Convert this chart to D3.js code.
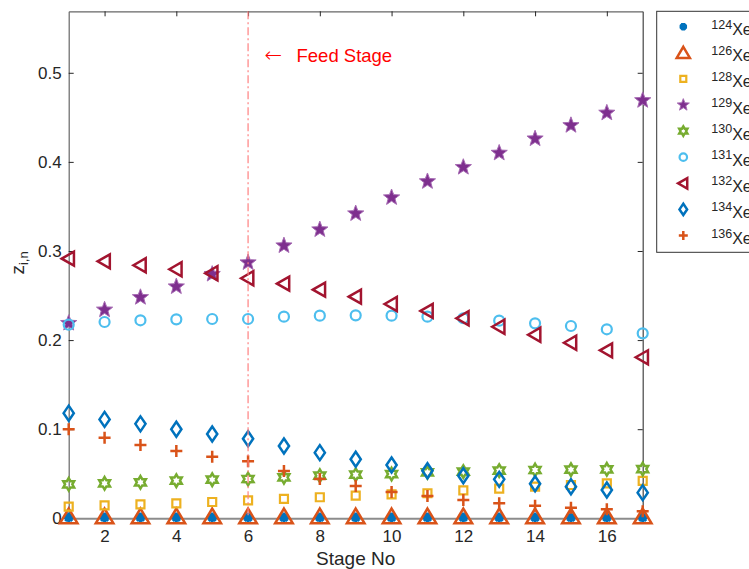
<!DOCTYPE html>
<html>
<head>
<meta charset="utf-8">
<script src="https://cdn.jsdelivr.net/npm/d3@7"></script>
<style>
  body { margin: 0; background: #fff; }
  svg { font-family: "Liberation Sans", Arial, sans-serif; }
</style>
</head>
<body>
<div class="chart"></div>
<script>
// stage numbers (x)
var stages = [1, 2, 3, 4, 5, 6, 7, 8, 9, 10, 11, 12, 13, 14, 15, 16, 17];

// mole fractions per isotope
var xe124 = [0.001, 0.001, 0.001, 0.001, 0.001, 0.001, 0.001, 0.001, 0.001, 0.001, 0.001, 0.001, 0.001, 0.001, 0.001, 0.001, 0.001];
var xe126 = [0.002, 0.002, 0.002, 0.002, 0.002, 0.002, 0.002, 0.002, 0.002, 0.002, 0.002, 0.002, 0.002, 0.002, 0.002, 0.002, 0.002];
var xe128 = [0.013, 0.0146, 0.0157, 0.0168, 0.0183, 0.0202, 0.0217, 0.0236, 0.0254, 0.0269, 0.0281, 0.0314, 0.0333, 0.0355, 0.0374, 0.0393, 0.0419];
var xe129 = [0.219, 0.234, 0.248, 0.260, 0.274, 0.287, 0.306, 0.324, 0.342, 0.360, 0.378, 0.394, 0.410, 0.426, 0.441, 0.455, 0.469];
var xe130 = [0.0381, 0.0393, 0.0404, 0.0422, 0.0433, 0.0441, 0.046, 0.0478, 0.0489, 0.0497, 0.0516, 0.0524, 0.0535, 0.0542, 0.0546, 0.055, 0.0553];
var xe131 = [0.2173, 0.2203, 0.2222, 0.2233, 0.2237, 0.2237, 0.2263, 0.2274, 0.2278, 0.2274, 0.2263, 0.2245, 0.2218, 0.2188, 0.2158, 0.2121, 0.2076];
var xe132 = [0.2914, 0.2884, 0.284, 0.2795, 0.275, 0.2694, 0.2633, 0.2566, 0.2487, 0.2405, 0.2327, 0.2245, 0.215, 0.206, 0.197, 0.1885, 0.1807];
var xe134 = [0.118, 0.111, 0.106, 0.100, 0.0946, 0.0893, 0.0811, 0.0737, 0.0662, 0.0598, 0.0534, 0.0478, 0.0437, 0.0388, 0.0355, 0.0318, 0.0288];
var xe136 = [0.0999, 0.0905, 0.0823, 0.0755, 0.0692, 0.064, 0.0531, 0.0441, 0.0363, 0.0295, 0.025, 0.0205, 0.0168, 0.0142, 0.0119, 0.0101, 0.0079];

var massNumbers = ["124", "126", "128", "129", "130", "131", "132", "134", "136"];
var xTicks = [2, 4, 6, 8, 10, 12, 14, 16];
var yTicks = [0, 0.1, 0.2, 0.3, 0.4, 0.5];
var yTickLabels = ["0", "0.1", "0.2", "0.3", "0.4", "0.5"];
var feedStage = 6;

// marker shapes (size passed as diameter^2)
function poly(pts) {
  return {
    draw: function (ctx, size) {
      var r = Math.sqrt(size) / 2;
      pts.forEach(function (p, i) {
        if (i === 0) ctx.moveTo(p[0] * r, p[1] * r);
        else ctx.lineTo(p[0] * r, p[1] * r);
      });
      ctx.closePath();
    }
  };
}
function starPts(n, inner) {
  var pts = [];
  for (var i = 0; i < n * 2; i++) {
    var a = -Math.PI / 2 + i * Math.PI / n;
    var rr = i % 2 === 0 ? 1 : inner;
    pts.push([Math.cos(a) * rr, Math.sin(a) * rr]);
  }
  return pts;
}
var asterisk = {
  draw: function (ctx, size) {
    var r = Math.sqrt(size) / 2;
    for (var i = 0; i < 4; i++) {
      var a = i * Math.PI / 4;
      ctx.moveTo(-Math.cos(a) * r, -Math.sin(a) * r);
      ctx.lineTo(Math.cos(a) * r, Math.sin(a) * r);
    }
  }
};
var plus = {
  draw: function (ctx, size) {
    var r = Math.sqrt(size) / 2;
    ctx.moveTo(-r, 0); ctx.lineTo(r, 0);
    ctx.moveTo(0, -r); ctx.lineTo(0, r);
  }
};
var circle = {
  draw: function (ctx, size) {
    var r = Math.sqrt(size) / 2;
    ctx.moveTo(r, 0);
    ctx.arc(0, 0, r, 0, 2 * Math.PI);
  }
};

var series = [
  { name: massNumbers[0], values: xe124, color: "#0072BD", shape: asterisk, size: 10, fill: "none", sw: 3 },
  { name: massNumbers[1], values: xe126, color: "#D95319", shape: poly([[0, -1], [1.1, 0.85], [-1.1, 0.85]]), size: 16, fill: "none", sw: 2.5 },
  { name: massNumbers[2], values: xe128, color: "#EDB120", shape: poly([[-1, -1], [1, -1], [1, 1], [-1, 1]]), size: 8, fill: "none", sw: 2.2 },
  { name: massNumbers[3], values: xe129, color: "#7E2F8E", shape: poly(starPts(5, 0.42)), size: 17, fill: "#7E2F8E", sw: 1 },
  { name: massNumbers[4], values: xe130, color: "#77AC30", shape: poly(starPts(6, 0.58)), size: 12.5, fill: "none", sw: 2.5 },
  { name: massNumbers[5], values: xe131, color: "#4DBEEE", shape: circle, size: 10, fill: "none", sw: 2.2 },
  { name: massNumbers[6], values: xe132, color: "#A2142F", shape: poly([[-1, 0], [0.75, -1], [0.75, 1]]), size: 14, fill: "none", sw: 2.5 },
  { name: massNumbers[7], values: xe134, color: "#0072BD", shape: poly([[0, -1], [0.68, 0], [0, 1], [-0.68, 0]]), size: 15, fill: "none", sw: 2.5 },
  { name: massNumbers[8], values: xe136, color: "#D95319", shape: plus, size: 12, fill: "none", sw: 2.5 }
];

var svgWidth = 749, svgHeight = 569;
var plotLeft = 68.7, plotRight = 642.7, plotTop = 11.3, plotBottom = 518.3;

var svg = d3.select(".chart")
  .append("svg")
  .attr("width", svgWidth)
  .attr("height", svgHeight);

var xScale = d3.scaleLinear().domain([1, 17]).range([plotLeft, plotRight]);
var yScale = d3.scaleLinear().domain([0, 0.569]).range([plotBottom, plotTop]);

// box (top / right) with inward ticks
svg.append("g")
  .attr("transform", `translate(0, ${plotTop})`)
  .call(d3.axisTop(xScale).tickValues(xTicks).tickSizeInner(-5).tickSizeOuter(0).tickFormat(""))
  .call(g => g.select(".domain").attr("stroke", "#666").attr("stroke-width", 1.2))
  .call(g => g.selectAll(".tick line").attr("stroke", "#262626"));

svg.append("g")
  .attr("transform", `translate(${plotRight}, 0)`)
  .call(d3.axisRight(yScale).tickValues(yTicks).tickSizeInner(-5).tickSizeOuter(0).tickFormat(""))
  .call(g => g.select(".domain").attr("stroke", "#444").attr("stroke-width", 1.2))
  .call(g => g.selectAll(".tick line").attr("stroke", "#262626"));

// left axis
svg.append("g")
  .attr("transform", `translate(${plotLeft}, 0)`)
  .call(d3.axisLeft(yScale).tickValues(yTicks).tickSizeInner(-5).tickSizeOuter(0).tickPadding(7)
    .tickFormat((d, i) => yTickLabels[i]))
  .call(g => g.select(".domain").attr("stroke", "#666").attr("stroke-width", 1.2))
  .call(g => g.selectAll(".tick line").attr("stroke", "#262626"))
  .call(g => g.selectAll("text").attr("font-size", "17px").attr("fill", "#262626")
    .attr("font-family", "'Liberation Sans', Arial, sans-serif"));

// bottom axis at origin
svg.append("g")
  .attr("transform", `translate(0, ${plotBottom})`)
  .call(d3.axisBottom(xScale).tickValues(xTicks).tickSizeInner(-5).tickSizeOuter(0).tickPadding(12))
  .call(g => g.select(".domain").attr("stroke", "#8c8c8c").attr("stroke-width", 2))
  .call(g => g.selectAll(".tick line").attr("stroke", "#262626"))
  .call(g => g.selectAll("text").attr("font-size", "17px").attr("fill", "#262626")
    .attr("font-family", "'Liberation Sans', Arial, sans-serif"));

// markers
function strokeOf(s) { return s.fill !== "none" ? "#a66bb3" : s.color; }

series.forEach(function (s) {
  var sym = d3.symbol().type(s.shape).size(s.size * s.size);
  svg.append("g").selectAll("path")
    .data(s.values)
    .enter()
    .append("path")
    .attr("transform", (d, i) => `translate(${xScale(stages[i])}, ${yScale(d)})`)
    .attr("d", sym)
    .attr("fill", s.fill)
    .attr("stroke", strokeOf(s))
    .attr("stroke-width", s.sw);
});

// feed stage line + note
svg.append("line")
  .attr("x1", xScale(feedStage)).attr("x2", xScale(feedStage))
  .attr("y1", plotTop).attr("y2", plotBottom)
  .attr("stroke", "#ff8080")
  .attr("stroke-width", 1.2)
  .attr("stroke-dasharray", "8,3,2,3");

var note = svg.append("text")
  .attr("y", 62)
  .attr("fill", "#ff0000");
note.append("tspan")
  .attr("x", 264.5)
  .attr("font-family", "'DejaVu Sans', sans-serif")
  .attr("font-weight", "200")
  .attr("font-size", "21px")
  .text("\u2190");
note.append("tspan")
  .attr("x", 296.5)
  .attr("font-size", "18.5px")
  .text("Feed Stage");

// axis labels
svg.append("text")
  .attr("x", (plotLeft + plotRight) / 2)
  .attr("y", 565)
  .attr("text-anchor", "middle")
  .attr("font-size", "19px")
  .attr("fill", "#262626")
  .text("Stage No");

var yLab = svg.append("text")
  .attr("transform", "translate(24, 263) rotate(-90)")
  .attr("text-anchor", "middle")
  .attr("font-size", "19px")
  .attr("fill", "#262626");
yLab.append("tspan").text("z");
yLab.append("tspan").attr("font-size", "13px").attr("dy", "4").text("i,n");

// legend
var legend = svg.append("g");
legend.append("rect")
  .attr("x", 656.7).attr("y", 11.3)
  .attr("width", 120).attr("height", 241)
  .attr("fill", "#fff")
  .attr("stroke", "#333")
  .attr("stroke-width", 1);

var rows = legend.selectAll("g.row")
  .data(series)
  .enter()
  .append("g")
  .attr("class", "row")
  .attr("transform", (d, i) => `translate(683.3, ${26.7 + i * 26.1})`);

rows.append("path")
  .attr("d", d => d3.symbol().type(d.shape).size(d.size * d.size * 0.56)())
  .attr("fill", d => d.fill)
  .attr("stroke", d => strokeOf(d))
  .attr("stroke-width", d => d.sw);

var lt = rows.append("text")
  .attr("x", 28)
  .attr("y", 8.5)
  .attr("fill", "#262626");
lt.append("tspan").attr("font-size", "12.5px").attr("dy", "-6.5").text(d => d.name);
lt.append("tspan").attr("font-size", "16px").attr("dy", "6.5").text("Xe");
</script>
</body>
</html>
